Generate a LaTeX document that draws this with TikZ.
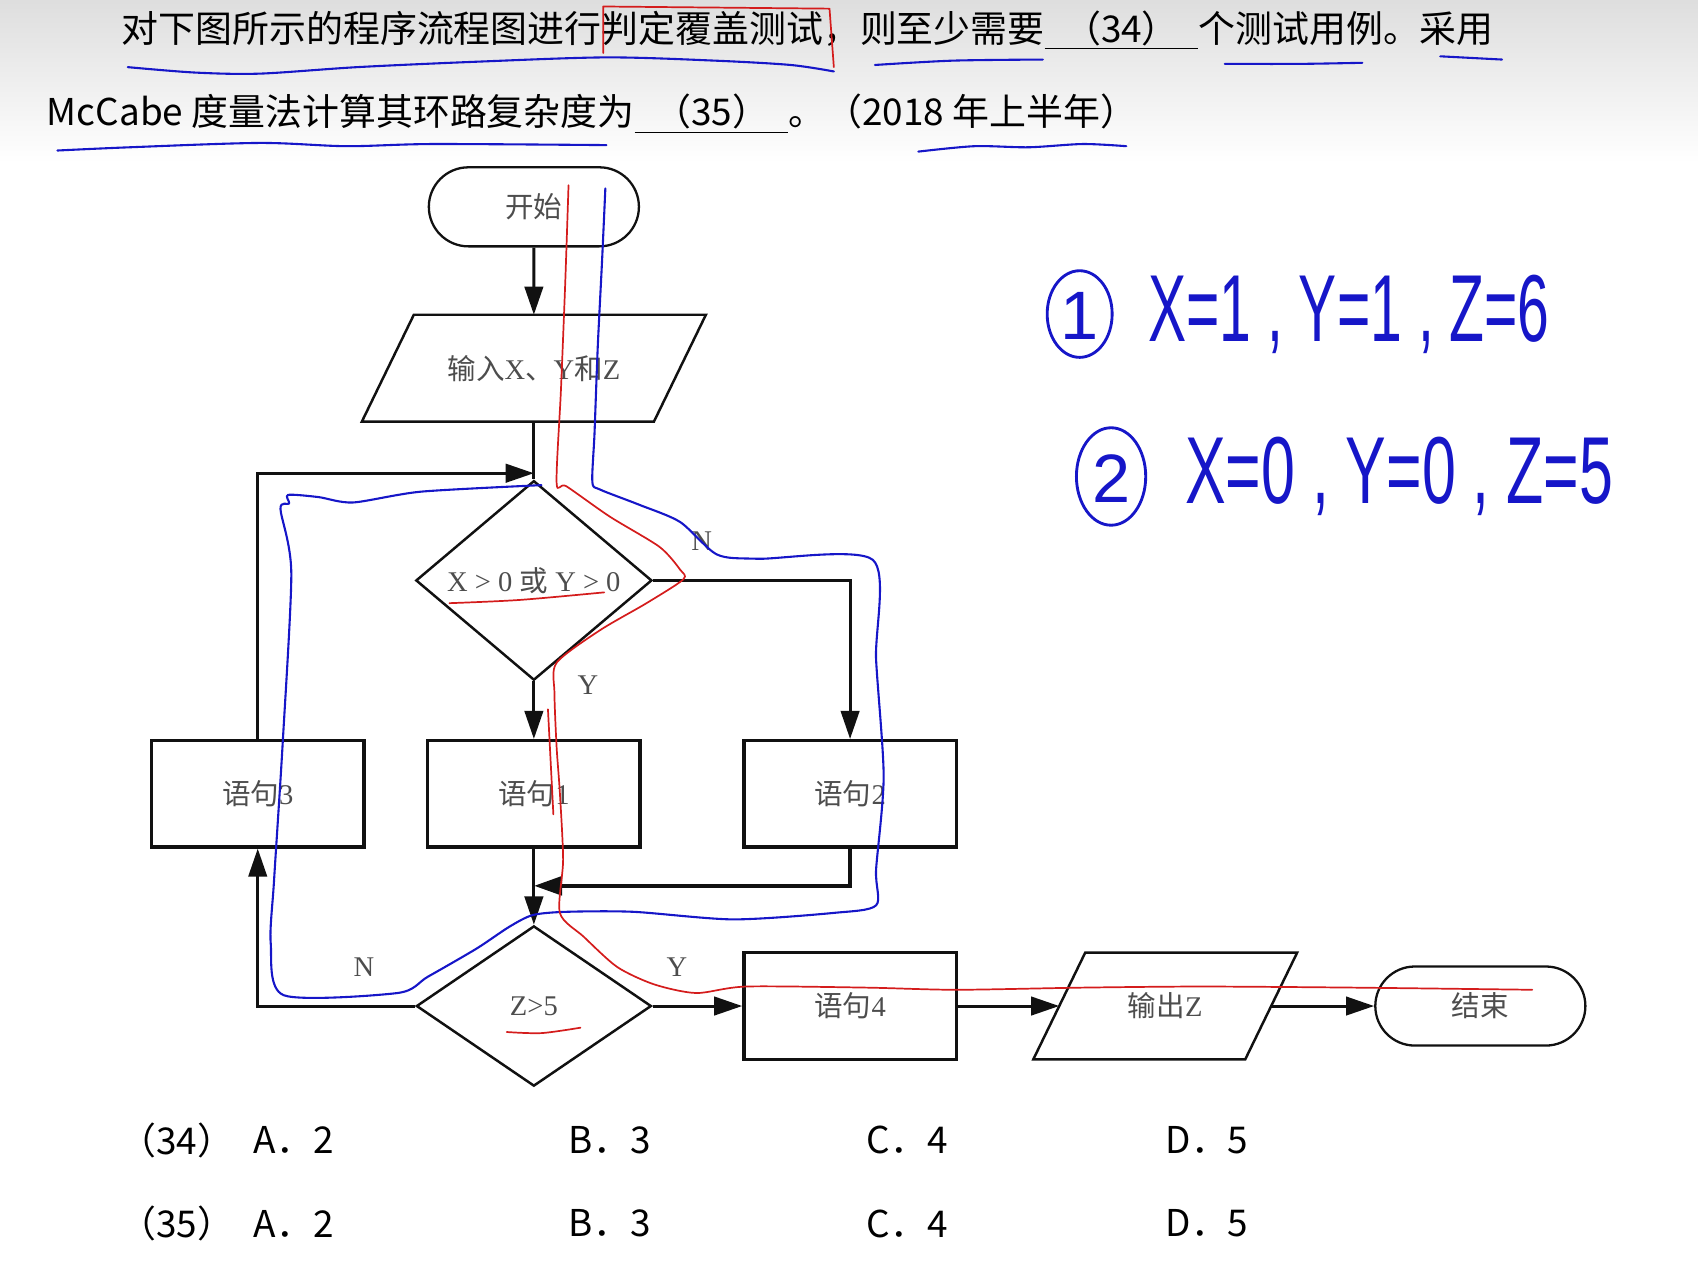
\documentclass[tikz,border=0pt]{standalone}
\usepackage{fontspec}
\setmainfont{Liberation Serif}
\newfontfamily\cjk{Noto Sans CJK SC}
\newfontfamily\penfont{Liberation Sans}
\usepackage{graphicx}
\usetikzlibrary{shapes.geometric, shapes.misc, arrows.meta}
\definecolor{ink}{HTML}{111111}
\definecolor{label-gray}{HTML}{4D4D4D}
\definecolor{pen-blue}{HTML}{1616C8}
\definecolor{pen-red}{HTML}{D41C1C}
\newcommand{\zh}[1]{{\cjk #1}}

\begin{document}
\begin{tikzpicture}[x=0.2mm, y=-0.2mm,
    every node/.style={font=\fontsize{15}{18}\selectfont, text=label-gray},
    box/.style={draw=ink, line width=1.8pt, minimum width=39.2mm,
      minimum height=19.6mm, inner sep=0pt},
    term/.style={draw=ink, rounded rectangle, line width=1.2pt,
      minimum width=38.8mm, minimum height=14.6mm, inner sep=0pt},
    cond/.style={draw=ink, diamond, line width=1.3pt, minimum width=43.4mm,
      minimum height=29.6mm, inner sep=0pt},
    io/.style={minimum width=53.8mm, minimum height=19.6mm, inner sep=0pt},
    flow/.style={draw=ink, line width=1.6pt,
      -{Triangle[length=5.2mm, width=3.4mm]}},
    pen/.style={line width=1.1pt, line cap=round, line join=round},
    question/.style={font=\cjk\fontsize{19.4}{23}\selectfont, text=black,
      anchor=west, inner sep=0pt},
    hand/.style={text=pen-blue, font=\penfont\fontsize{50}{50}\selectfont,
      anchor=west, inner sep=0pt}]
    \useasboundingbox (0,0) rectangle (1568,1171);
    \shade[top color=black!13, bottom color=white] (0,0) rectangle (1568,150);

    % question text
    \node[question] (q1) at (112,28)
      {对下图所示的程序流程图进行判定覆盖测试，则至少需要\underline{\makebox[28.4mm]{（34）}}个测试用例。采用};
    \node[question] (q2) at (43,105)
      {McCabe 度量法计算其环路复杂度为\underline{\makebox[28.4mm]{（35）}}。（2018 年上半年）};

    % flow chart
    \node[term] (start) at (493,191) {\zh{开始}};
    \node[io] (inp) at (493,340) {\zh{输入}X\zh{、}Y\zh{和}Z};
    \draw[ink, line width=1.3pt] ([xshift=-4.8mm]inp.south west)
      -- ([xshift=-4.8mm]inp.south east) -- ([xshift=4.8mm]inp.north east)
      -- ([xshift=4.8mm]inp.north west) -- cycle;
    \coordinate (j1) at (493,437);
    \node[cond, minimum width=43.6mm, minimum height=29.4mm] (d1) at (493,536)
      {X > 0 \zh{或} Y > 0};
    \node[box] (s3) at (238,733) {\zh{语句}3};
    \node[box] (s1) at (493,733) {\zh{语句}1};
    \node[box] (s2) at (785,733) {\zh{语句}2};
    \coordinate (j2) at (493,818);
    \node[cond] (d2) at (493,929) {Z>5};
    \node[box, minimum height=19.8mm] (s4) at (785,929) {\zh{语句}4};
    \node[io, minimum width=39mm] (out) at (1076,929) {\zh{输出}Z};
    \draw[ink, line width=1.3pt] ([xshift=-4.8mm]out.south west)
      -- ([xshift=-4.8mm]out.south east) -- ([xshift=4.8mm]out.north east)
      -- ([xshift=4.8mm]out.north west) -- cycle;
    \node[term] (end) at (1367,929) {\zh{结束}};

    \draw[flow] (start) -- (inp);
    \draw[ink, line width=1.6pt] (inp) -- (d1);
    \draw[flow] (s3) |- (j1);
    \draw[flow] (d1) -| (s2);
    \draw[flow] (d1) -- (s1);
    \draw[flow] (s1) -- (d2);
    \draw[flow, line width=2.4pt] (s2) |- (j2);
    \draw[flow] (d2) -| (s3);
    \draw[flow] (d2) -- (s4);
    \draw[flow] (s4) -- (out);
    \draw[flow] (out) -- (end);
    \node (lN1) at (648,500) {N};
    \node (lY1) at (543,633) {Y};
    \node (lN2) at (336,893) {N};
    \node (lY2) at (625,893) {Y};

    % options
    \node[question] (o34) at (110,1053) {（34）};
    \node[question] (a34) at (234,1053) {A．2};
    \node[question] (b34) at (525,1053) {B．3};
    \node[question] (c34) at (800,1053) {C．4};
    \node[question] (d34) at (1076,1053) {D．5};
    \node[question] (o35) at (110,1130) {（35）};
    \node[question] (a35) at (234,1130) {A．2};
    \node[question] (b35) at (525,1130) {B．3};
    \node[question] (c35) at (800,1130) {C．4};
    \node[question] (d35) at (1076,1130) {D．5};

    % hand notes
    \draw[pen, pen-blue, line width=1.5pt] (997,290) ellipse [x radius=6mm, y radius=8mm];
    \node[text=pen-blue, font=\penfont\fontsize{36}{36}\selectfont] (n1) at (997,292) {1};
    \node[hand] (case1) at (1060,290) {\scalebox{0.6}[1]{X=1 , Y=1 , Z=6}};
    \draw[pen, pen-blue, line width=1.5pt] (1026,440) ellipse [x radius=6.4mm, y radius=9mm];
    \node[text=pen-blue, font=\penfont\fontsize{36}{36}\selectfont] (n2) at (1026,442) {2};
    \node[hand] (case2) at (1094,440) {\scalebox{0.64}[1]{X=0 , Y=0 , Z=5}};

    \draw[pen, pen-blue] plot[smooth] coordinates {(118,62) (180,67) (240,68)
      (330,62) (440,57) (560,53) (660,56) (730,60) (770,66)};
    \draw[pen, pen-blue] plot[smooth] coordinates {(808,60) (880,56) (963,55)};
    \draw[pen, pen-blue] plot[smooth] coordinates {(1131,59) (1200,59) (1258,58)};
    \draw[pen, pen-blue] (1330,52) -- (1387,55);
    \draw[pen, pen-blue] plot[smooth] coordinates {(53,139) (120,136) (240,132)
      (320,135) (400,133) (560,134)};
    \draw[pen, pen-blue] plot[smooth] coordinates {(848,140) (900,135) (950,136)
      (1000,133) (1040,135)};
    \draw[pen, pen-red, line width=0.9pt] (557,49) -- (557,6) -- (766,8) -- (770,62);

    \draw[pen, pen-blue] plot[smooth, tension=0.45] coordinates {(559,174)
      (556,240) (552,320) (549,400) (547,445) (554,452) (590,466) (628,482)
      (662,512) (700,516) (806,517) (809,609) (816,717) (809,803) (809,836)
      (770,843) (677,849) (585,842) (523,842) (492,845) (470,856) (440,876)
      (395,902) (367,917) (262,919) (250,871) (253,814) (261,687) (269,529)
      (259,470) (267,465) (266,457) (294,459) (326,464) (389,454) (500,448)};
    \draw[pen, pen-red, line width=0.9pt] plot[smooth, tension=0.45] coordinates {
      (525,171) (522,260) (518,360) (514,446) (523,449) (563,477) (609,505)
      (628,526) (631,535) (597,557) (554,582) (514,612) (512,640) (514,690)
      (517,732) (520,794) (517,843) (539,865) (570,893) (604,909) (643,917)
      (689,911) (800,912) (883,914) (1000,912) (1110,911) (1250,912) (1415,914)};
    \draw[pen, pen-red, line width=0.9pt] plot[smooth] coordinates {(415,557)
      (480,554) (558,547)};
    \draw[pen, pen-red, line width=0.9pt] plot[smooth] coordinates {(468,953)
      (500,954) (536,949)};
    \draw[pen, pen-red, line width=0.9pt] (506,655) -- (511,752);
  \end{tikzpicture}
\end{document}
